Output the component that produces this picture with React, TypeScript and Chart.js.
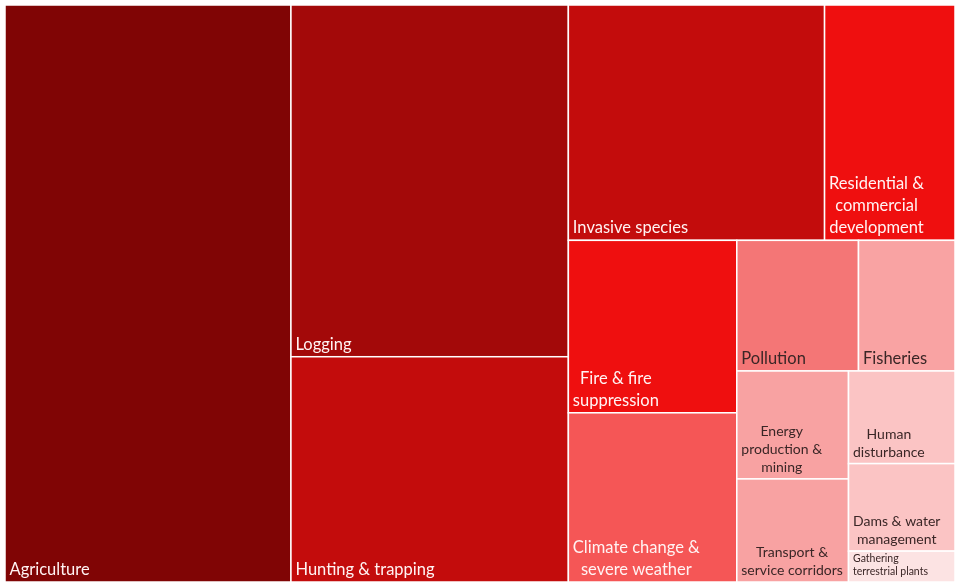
import React, { useEffect, useRef } from "react";
import { Chart, registerables } from "chart.js";

Chart.register(...registerables);

// ---- data ----
const categories = [
  "Agriculture",
  "Logging",
  "Hunting & trapping",
  "Invasive species",
  "Residential & commercial development",
  "Fire & fire suppression",
  "Climate change & severe weather",
  "Pollution",
  "Fisheries",
  "Energy production & mining",
  "Transport & service corridors",
  "Human disturbance",
  "Dams & water management",
  "Gathering terrestrial plants",
];
const values = [301, 178, 114, 110, 56, 53, 52, 29, 23, 22, 21, 18, 17, 6];
const labelLines = [
  ["Agriculture"],
  ["Logging"],
  ["Hunting & trapping"],
  ["Invasive species"],
  ["Residential &", "commercial", "development"],
  ["Fire & fire", "suppression"],
  ["Climate change &", "severe weather"],
  ["Pollution"],
  ["Fisheries"],
  ["Energy", "production &", "mining"],
  ["Transport &", "service corridors"],
  ["Human", "disturbance"],
  ["Dams & water", "management"],
  ["Gathering", "terrestrial plants"],
];

// ---- styles ----
const fillColors = [
  "#800505", "#A30909", "#C30C0C", "#C30C0C", "#EF0F0F", "#EF0F0F", "#F55656",
  "#F47676", "#F9A3A3", "#F8A2A2", "#F8A2A2", "#FBC4C4", "#FBC4C4", "#FCE3E3",
];
const textColors = [
  "#FFF3F3", "#FFF3F3", "#FFF3F3", "#FFF3F3", "#FFF3F3", "#FFF3F3", "#FFF3F3",
  "#3A2626", "#3A2626", "#3A2626", "#3A2626", "#3A2626", "#3A2626", "#3A2626",
];
const fontSizes = [16.5, 16.5, 16.5, 16.5, 16.5, 16.5, 16.5, 16.5, 16.5, 14, 14, 14, 14, 10.5];
const lineHeights = [22, 22, 22, 22, 22, 22, 22, 22, 22, 18, 18, 18, 18, 13];
const centerLines = [true, true, true, true, true, true, true, true, true, true, true, true, true, false];

const W_UNITS = 950;
const H_UNITS = 577;

type Rect = { x: number; y: number; w: number; h: number };

function worst(row: number[], s: number): number {
  const sum = row.reduce((a, b) => a + b, 0);
  const mx = Math.max(...row);
  const mn = Math.min(...row);
  return Math.max((s * s * mx) / (sum * sum), (sum * sum) / (s * s * mn));
}

function squarify(vals: number[], x0: number, y0: number, w0: number, h0: number): Rect[] {
  const total = vals.reduce((a, b) => a + b, 0);
  const areas = vals.map((v) => (v * w0 * h0) / total);
  const rects: Rect[] = [];
  let x = x0, y = y0, w = w0, h = h0;
  let i = 0;
  while (i < areas.length) {
    const s = Math.min(w, h);
    let row = [areas[i]];
    let best = worst(row, s);
    let j = i + 1;
    while (j < areas.length) {
      const cand = [...row, areas[j]];
      const wv = worst(cand, s);
      if (wv > best) break;
      row = cand;
      best = wv;
      j++;
    }
    const rs = row.reduce((a, b) => a + b, 0);
    if (w >= h) {
      const cw = rs / h;
      let cy = y;
      row.forEach((a) => {
        const rh = a / cw;
        rects.push({ x, y: cy, w: cw, h: rh });
        cy += rh;
      });
      x += cw;
      w -= cw;
    } else {
      const rh = rs / w;
      let cx = x;
      row.forEach((a) => {
        const rw = a / rh;
        rects.push({ x: cx, y, w: rw, h: rh });
        cx += rw;
      });
      y += rh;
      h -= rh;
    }
    i = j;
  }
  return rects;
}

const treemapPlugin = {
  id: "treemapCells",
  afterDatasetsDraw(chart: any) {
    const { ctx, scales } = chart;
    const xs = scales.x;
    const ys = scales.y;
    const rects = squarify(values, 0, 0, W_UNITS, H_UNITS);
    ctx.save();
    rects.forEach((r, i) => {
      const px1 = xs.getPixelForValue(r.x);
      const px2 = xs.getPixelForValue(r.x + r.w);
      const py1 = ys.getPixelForValue(r.y);
      const py2 = ys.getPixelForValue(r.y + r.h);
      const left = Math.min(px1, px2), right = Math.max(px1, px2);
      const top = Math.min(py1, py2), bottom = Math.max(py1, py2);
      ctx.fillStyle = fillColors[i];
      ctx.fillRect(left, top, right - left, bottom - top);
      ctx.strokeStyle = "#FFFFFF";
      ctx.lineWidth = 1.5;
      ctx.strokeRect(left, top, right - left, bottom - top);
    });
    rects.forEach((r, i) => {
      const px1 = xs.getPixelForValue(r.x);
      const py2 = ys.getPixelForValue(r.y + r.h);
      const lines = labelLines[i];
      ctx.font = `${fontSizes[i]}px Lato, "Open Sans", sans-serif`;
      ctx.fillStyle = textColors[i];
      ctx.textBaseline = "alphabetic";
      ctx.textAlign = "left";
      const widths = lines.map((l) => ctx.measureText(l).width);
      const blockW = Math.max(...widths);
      const left = px1 + 4.5;
      const lastBase = py2 - 7;
      lines.forEach((l, k) => {
        const base = lastBase - (lines.length - 1 - k) * lineHeights[i];
        const off = centerLines[i] ? (blockW - widths[k]) / 2 : 0;
        ctx.fillText(l, left + off, base);
      });
    });
    ctx.restore();
  },
};

export default function App() {
  const ref = useRef<HTMLCanvasElement | null>(null);
  useEffect(() => {
    document.body.style.margin = "0";
    const canvas = ref.current;
    if (!canvas) return;
    const chart = new Chart(canvas, {
      type: "scatter",
      data: {
        labels: categories,
        datasets: [
          {
            label: "Threats",
            data: [],
          },
        ],
      },
      options: {
        animation: false,
        responsive: false,
        layout: { padding: { left: 5, top: 5, right: 5, bottom: 6 } },
        plugins: { legend: { display: false }, tooltip: { enabled: false } },
        scales: {
          x: { type: "linear", min: 0, max: W_UNITS, display: false },
          y: { type: "linear", min: 0, max: H_UNITS, reverse: true, display: false },
        },
      },
      plugins: [treemapPlugin],
    });
    return () => chart.destroy();
  }, []);
  return (
    <div style={{ width: 960, height: 588, background: "#FFFFFF" }}>
      <canvas ref={ref} width={960} height={588} />
    </div>
  );
}
